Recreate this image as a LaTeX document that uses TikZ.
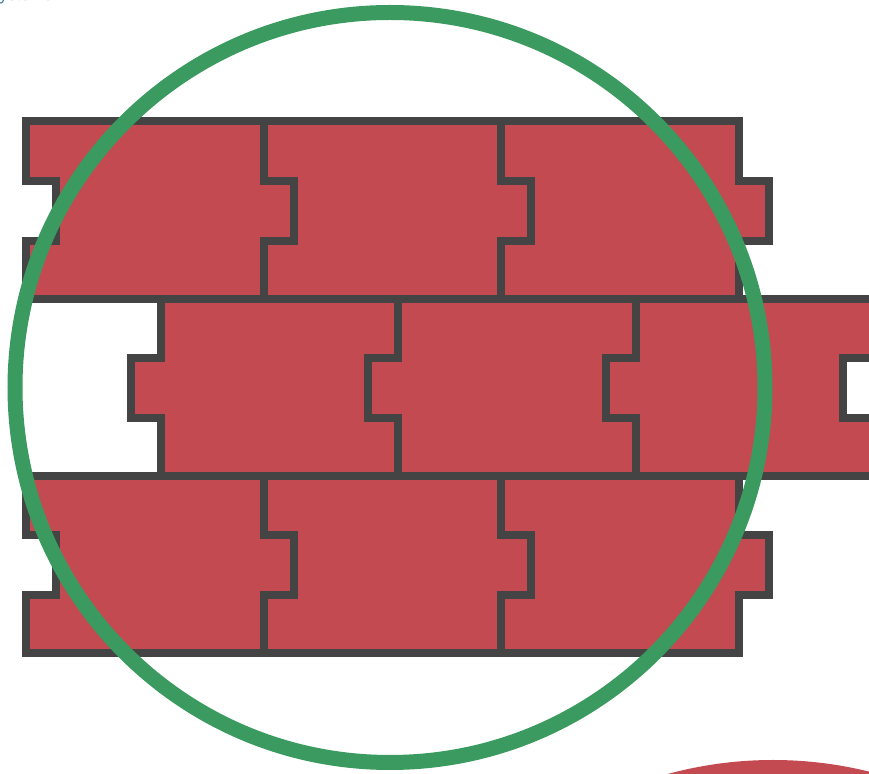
\documentclass[tikz,border=0pt]{standalone}
\usepackage{fontspec}
\setmainfont{Liberation Sans}
\usetikzlibrary{positioning}
\definecolor{brickred}{HTML}{C34A50}
\definecolor{mortar}{HTML}{444444}
\definecolor{ringgreen}{HTML}{3B9A5F}
\definecolor{labelblue}{HTML}{3A78A8}

\begin{document}
\begin{tikzpicture}[
  x=0.5pt, y=-0.5pt,
  brick/.style={draw=mortar, fill=brickred, line width=4pt, line join=miter},
  ring/.style={draw=ringgreen, line width=7.5pt},
  blob/.style={fill=brickred}
]
  \useasboundingbox (0,0) rectangle (869,774);
  \node[anchor=base west, text=labelblue, font=\fontsize{8.4}{10}\selectfont, inner sep=0pt] (title) at (-1,1) {ystems};
  \foreach \row in {121.5,476} {
    \foreach \col in {26,263.5,501} {
      \draw[brick] (\col,\row) -- ++(237.5,0) -- ++(0,59.5) -- ++(30,0) -- ++(0,60) -- ++(-30,0) -- ++(0,57.75)
        -- ++(-237.5,0) -- ++(0,-57.75) -- ++(30,0) -- ++(0,-60) -- ++(-30,0) -- cycle;
    }
  }
  \foreach \col in {160.5,398,635.5} {
    \draw[brick] (\col,298.75) -- ++(237.5,0) -- ++(0,59) -- ++(-30,0) -- ++(0,60) -- ++(30,0) -- ++(0,58.25)
      -- ++(-237.5,0) -- ++(0,-58.25) -- ++(-30,0) -- ++(0,-60) -- ++(30,0) -- cycle;
  }
  \coordinate (hub) at (390,387.5);
  \coordinate (sun) at (773,1160);
  \draw[ring] (hub) circle[radius=187.5pt];
  \fill[blob] (sun) circle[radius=200pt];
\end{tikzpicture}
\end{document}
